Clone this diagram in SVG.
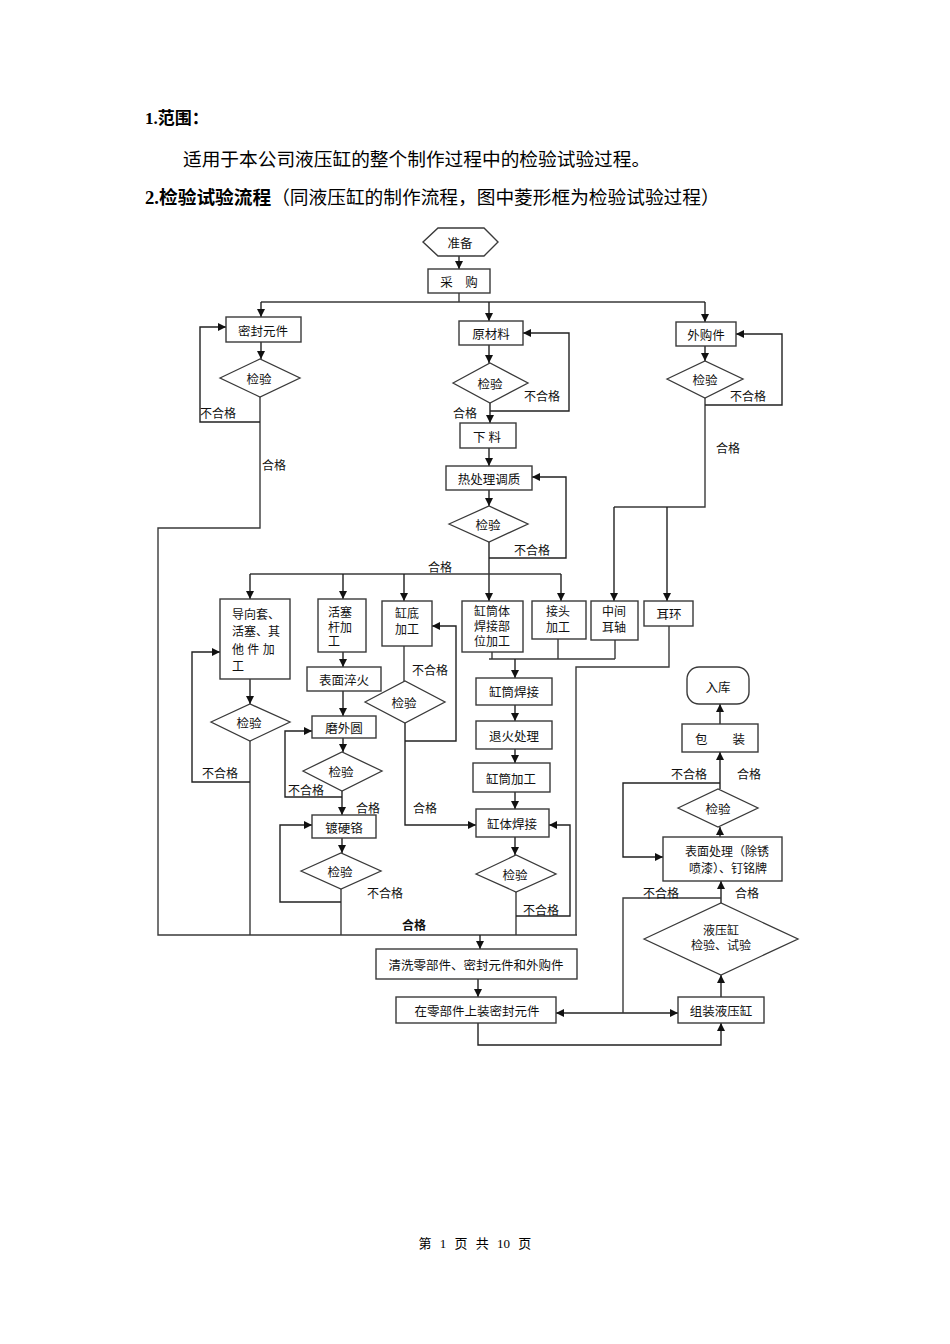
<svg xmlns="http://www.w3.org/2000/svg" width="950" height="1344" viewBox="0 0 950 1344">
<defs>
<marker id="ah" viewBox="0 0 10 10" refX="10" refY="5" markerWidth="8" markerHeight="8" markerUnits="userSpaceOnUse" orient="auto-start-reverse"><path d="M0,0 L10,5 L0,10 z" fill="#111"/></marker>
</defs>
<style>
.bx{fill:#fff;stroke:#3a3a3a;stroke-width:1.4}
.dm{fill:#fff;stroke:#3a3a3a;stroke-width:1.3}
.ln{fill:none;stroke:#3a3a3a;stroke-width:1.4}
.ar{fill:none;stroke:#222;stroke-width:1.4;marker-end:url(#ah)}
.t{font-family:"Noto Sans CJK SC",sans-serif;font-size:12.5px;fill:#111;text-anchor:middle;dominant-baseline:central}
.m{font-family:"Liberation Sans","Noto Sans CJK SC",sans-serif;font-size:12px;fill:#111}
.mc{text-anchor:middle}
.lb{font-family:"Noto Sans CJK SC",sans-serif;font-size:12px;fill:#111;dominant-baseline:central}
.hd{font-family:"Liberation Serif","Noto Sans CJK SC",serif;fill:#000}
</style>
<rect width="950" height="1344" fill="#fff"/>

<g id="header">
<text class="hd" x="145" y="124" font-size="17" font-weight="bold">1.范围：</text>
<text class="hd" x="183" y="166" font-size="18.7">适用于本公司液压缸的整个制作过程中的检验试验过程。</text>
<text class="hd" x="145" y="204" font-size="18.7"><tspan font-weight="bold">2.检验试验流程</tspan>（同液压缸的制作流程，图中菱形框为检验试验过程）</text>
</g>

<g id="connectors">
<path class="ar" d="M459,256 V269"/>
<path class="ln" d="M459,293 V302 M261,302 H705"/>
<path class="ar" d="M261,302 V317"/>
<path class="ar" d="M489,302 V321"/>
<path class="ar" d="M705,302 V322"/>
<path class="ar" d="M261,342 V359"/>
<path class="ln" d="M260,397 V528 H158 V935 H577"/>
<path class="ar" d="M260,422 H200 V327 H226"/>
<path class="ar" d="M489,345 V363"/>
<path class="ar" d="M490,403 V423"/>
<path class="ar" d="M490,411 H569 V333 H523"/>
<path class="ar" d="M489,448 V466"/>
<path class="ar" d="M489,490 V506"/>
<path class="ar" d="M489,558 H566 V477 H532"/>
<path class="ar" d="M489,542 V601"/>
<path class="ln" d="M250,574 H561"/>
<path class="ar" d="M250,574 V599"/>
<path class="ar" d="M343,574 V599"/>
<path class="ar" d="M404,574 V601"/>
<path class="ar" d="M561,574 V601"/>
<path class="ar" d="M705,346 V361"/>
<path class="ln" d="M705,398 V507 H614"/>
<path class="ar" d="M705,405 H782 V334 H736"/>
<path class="ar" d="M614,507 V601"/>
<path class="ar" d="M667,507 V601"/>
<path class="ar" d="M250,679 V704"/>
<path class="ln" d="M250,741 V935"/>
<path class="ar" d="M250,782 H192 V652 H220"/>
<path class="ar" d="M343,652 V667"/>
<path class="ar" d="M343,691 V716"/>
<path class="ar" d="M343,738 V752"/>
<path class="ar" d="M342,791 V815"/>
<path class="ar" d="M342,797 H285 V731 H312"/>
<path class="ar" d="M342,838 V853"/>
<path class="ln" d="M341,889 V935"/>
<path class="ar" d="M341,902 H280 V825 H312"/>
<path class="ln" d="M404,646 V681"/>
<path class="ar" d="M405,723 V825 H476"/>
<path class="ar" d="M405,741 H456 V626 H432"/>
<path class="ln" d="M492,652 V659 M489,659 H615 M558,639 V659 M615,640 V659"/>
<path class="ar" d="M515,659 V678"/>
<path class="ln" d="M669,626 V667 H576 V935"/>
<path class="ar" d="M515,705 V721"/>
<path class="ar" d="M515,749 V763"/>
<path class="ar" d="M515,792 V809"/>
<path class="ar" d="M515,837 V855"/>
<path class="ln" d="M516,892 V935"/>
<path class="ar" d="M516,916 H570 V825 H549"/>
<path class="ar" d="M480,935 V949"/>
<path class="ar" d="M478,979 V997"/>
<path class="ar" d="M556,1013 H678" marker-start="url(#ah)"/>
<path class="ar" d="M478,1023 V1045 H721 V1023"/>
<path class="ar" d="M721,997 V975"/>
<path class="ar" d="M721,903 V881"/>
<path class="ar" d="M720,837 V827"/>
<path class="ar" d="M720,789 V752"/>
<path class="ar" d="M720,724 V704"/>
<path class="ar" d="M720,783 H623 V857 H663"/>
<path class="ln" d="M721,898 H623 V1013"/>
</g>

<g id="labels">
<text class="lb" x="200" y="412">不合格</text>
<text class="lb" x="262" y="464">合格</text>
<text class="lb" x="524" y="395">不合格</text>
<text class="lb" x="453" y="412">合格</text>
<text class="lb" x="514" y="549">不合格</text>
<text class="lb" x="428" y="566">合格</text>
<text class="lb" x="730" y="395">不合格</text>
<text class="lb" x="716" y="447">合格</text>
<text class="lb" x="202" y="772">不合格</text>
<text class="lb" x="288" y="789">不合格</text>
<text class="lb" x="356" y="807">合格</text>
<text class="lb" x="367" y="892">不合格</text>
<text class="lb" x="412" y="669">不合格</text>
<text class="lb" x="413" y="807">合格</text>
<text class="lb" x="523" y="909">不合格</text>
<text class="lb" x="402" y="924" font-size="15" font-weight="bold">合格</text>
<text class="lb" x="671" y="773">不合格</text>
<text class="lb" x="737" y="773">合格</text>
<text class="lb" x="643" y="892">不合格</text>
<text class="lb" x="735" y="892">合格</text>
</g>

<g id="n_zhunbei"><polygon class="bx" points="423,242 438,228 484,228 498,242 484,256 438,256"/><text class="t" x="460" y="242">准备</text></g>
<g id="n_caigou"><rect class="bx" x="428" y="269" width="62" height="24"/><text class="t" x="459" y="281">采　购</text></g>
<g id="n_mifeng"><rect class="bx" x="226" y="317" width="75" height="25"/><text class="t" x="263" y="330">密封元件</text></g>
<g id="d_mifeng"><polygon class="dm" points="220,378 260,359 300,378 260,397"/><text class="t" x="259" y="378">检验</text></g>
<g id="n_yuancailiao"><rect class="bx" x="459" y="321" width="64" height="24"/><text class="t" x="491" y="333">原材料</text></g>
<g id="d_yuancailiao"><polygon class="dm" points="453,383 490,363 528,383 490,403"/><text class="t" x="490" y="383">检验</text></g>
<g id="n_xialiao"><rect class="bx" x="460" y="423" width="56" height="25"/><text class="t" x="487" y="436">下 料</text></g>
<g id="n_rechuli"><rect class="bx" x="446" y="466" width="86" height="24"/><text class="t" x="489" y="478">热处理调质</text></g>
<g id="d_rechuli"><polygon class="dm" points="449,524 489,506 528,524 489,542"/><text class="t" x="488" y="524">检验</text></g>
<g id="n_waigou"><rect class="bx" x="676" y="322" width="60" height="24"/><text class="t" x="706" y="334">外购件</text></g>
<g id="d_waigou"><polygon class="dm" points="667,379 705,361 743,379 705,398"/><text class="t" x="705" y="379">检验</text></g>

<g id="n_daoxiang"><rect class="bx" x="220" y="599" width="70" height="80"/>
<text class="m"><tspan x="232" y="619">导向套、</tspan><tspan x="232" y="636">活塞、其</tspan><tspan x="232" y="654">他 件 加</tspan><tspan x="232" y="671">工</tspan></text></g>
<g id="d_daoxiang"><polygon class="dm" points="211,722 250,704 290,722 250,741"/><text class="t" x="249" y="722">检验</text></g>
<g id="n_huosai"><rect class="bx" x="318" y="599" width="48" height="53"/>
<text class="m"><tspan x="328" y="617">活塞</tspan><tspan x="328" y="632">杆加</tspan><tspan x="328" y="646">工</tspan></text></g>
<g id="n_biaomian"><rect class="bx" x="307" y="667" width="74" height="24"/><text class="t" x="344" y="679">表面淬火</text></g>
<g id="n_mowaiyuan"><rect class="bx" x="312" y="716" width="64" height="22"/><text class="t" x="344" y="727">磨外圆</text></g>
<g id="d_mowaiyuan"><polygon class="dm" points="303,771 342,752 382,771 342,791"/><text class="t" x="341" y="771">检验</text></g>
<g id="n_duying"><rect class="bx" x="312" y="815" width="64" height="23"/><text class="t" x="344" y="827">镀硬铬</text></g>
<g id="d_duying"><polygon class="dm" points="301,871 341,853 381,871 341,889"/><text class="t" x="340" y="871">检验</text></g>
<g id="n_gangdi"><rect class="bx" x="382" y="601" width="50" height="45"/>
<text class="m mc"><tspan x="407" y="618">缸底</tspan><tspan x="407" y="634">加工</tspan></text></g>
<g id="d_gangdi"><polygon class="dm" points="365,702 405,681 445,702 405,723"/><text class="t" x="404" y="702">检验</text></g>
<g id="n_gangtongti"><rect class="bx" x="462" y="601" width="61" height="51"/>
<text class="m mc"><tspan x="492" y="616">缸筒体</tspan><tspan x="492" y="631">焊接部</tspan><tspan x="492" y="646">位加工</tspan></text></g>
<g id="n_jietou"><rect class="bx" x="532" y="601" width="54" height="38"/>
<text class="m mc"><tspan x="558" y="616">接头</tspan><tspan x="558" y="632">加工</tspan></text></g>
<g id="n_zhongjian"><rect class="bx" x="591" y="601" width="47" height="39"/>
<text class="m mc"><tspan x="614" y="616">中间</tspan><tspan x="614" y="632">耳轴</tspan></text></g>
<g id="n_erhuan"><rect class="bx" x="644" y="601" width="49" height="25"/><text class="t" x="669" y="613">耳环</text></g>

<g id="n_gangtonghanjie"><rect class="bx" x="476" y="678" width="76" height="27"/><text class="t" x="514" y="691">缸筒焊接</text></g>
<g id="n_tuihuo"><rect class="bx" x="476" y="721" width="76" height="28"/><text class="t" x="514" y="735">退火处理</text></g>
<g id="n_gangtongjiagong"><rect class="bx" x="473" y="763" width="77" height="29"/><text class="t" x="511" y="778">缸筒加工</text></g>
<g id="n_gangtihanjie"><rect class="bx" x="476" y="809" width="73" height="28"/><text class="t" x="512" y="823">缸体焊接</text></g>
<g id="d_gangti"><polygon class="dm" points="476,874 516,855 556,874 516,892"/><text class="t" x="515" y="874">检验</text></g>

<g id="n_ruku"><rect class="bx" x="687" y="667" width="62" height="37" rx="12"/><text class="t" x="718" y="686">入库</text></g>
<g id="n_baozhuang"><rect class="bx" x="682" y="724" width="76" height="28"/><text class="t" x="720" y="738">包　　装</text></g>
<g id="d_jianyan"><polygon class="dm" points="678,808 718,789 758,808 718,827"/><text class="t" x="718" y="808">检验</text></g>
<g id="n_biaomianchuli"><rect class="bx" x="663" y="837" width="119" height="44"/>
<text class="m mc" font-size="12.5"><tspan x="727" y="856">表面处理（除锈</tspan><tspan x="728" y="873">喷漆）、钉铭牌</tspan></text></g>
<g id="d_yeyagang"><polygon class="dm" points="644,939 721,903 798,939 721,975"/>
<text class="m mc" font-size="12.5"><tspan x="721" y="935">液压缸</tspan><tspan x="721" y="950">检验、试验</tspan></text></g>
<g id="n_zuzhuang"><rect class="bx" x="678" y="997" width="86" height="26"/><text class="t" x="721" y="1010">组装液压缸</text></g>
<g id="n_qingxi"><rect class="bx" x="376" y="949" width="201" height="30"/><text class="t" x="476" y="964" font-size="12.7">清洗零部件、密封元件和外购件</text></g>
<g id="n_zhuang"><rect class="bx" x="396" y="997" width="160" height="26"/><text class="t" x="477" y="1010" font-size="12.9">在零部件上装密封元件</text></g>

<g id="footer">
<text class="hd" x="475" y="1248" font-size="13" text-anchor="middle" word-spacing="5">第 1 页 共 10 页</text>
</g>
</svg>
